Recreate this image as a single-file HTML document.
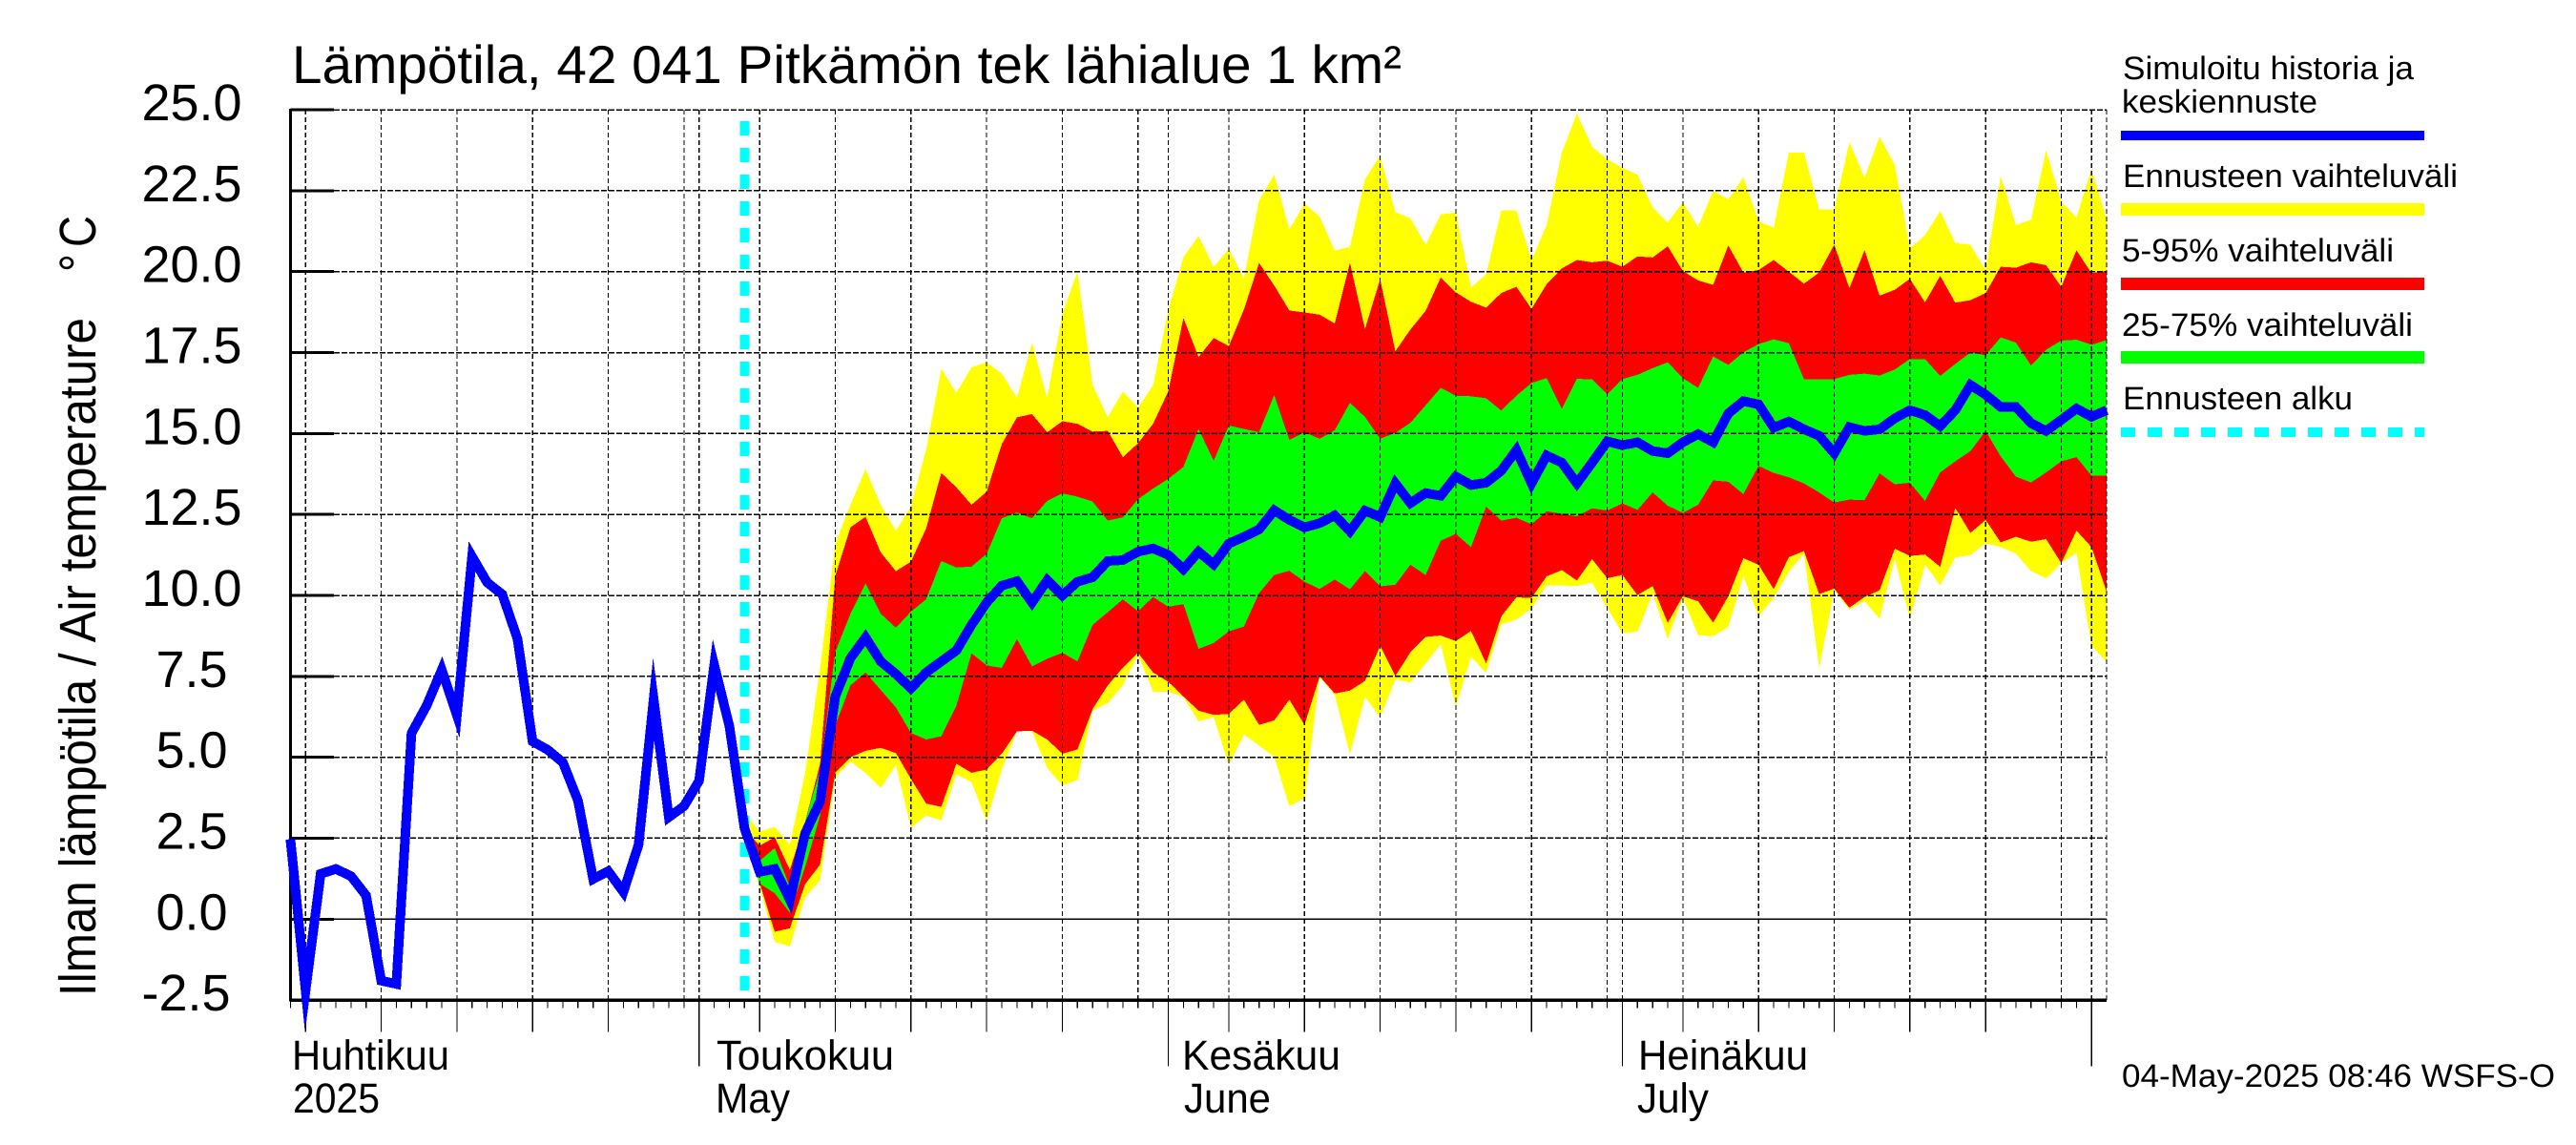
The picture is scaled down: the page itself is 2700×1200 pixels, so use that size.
<!DOCTYPE html>
<html lang="fi">
<head>
<meta charset="utf-8">
<title>Lämpötila, 42 041 Pitkämön tek lähialue 1 km²</title>
<style>
html,body{margin:0;padding:0;background:#fff;width:2700px;height:1200px;overflow:hidden}
svg{display:block}
text{font-family:"Liberation Sans",sans-serif;fill:#000;text-rendering:geometricPrecision}
</style>
</head>
<body>
<svg id="chart" xmlns="http://www.w3.org/2000/svg" width="2700" height="1200" viewBox="0 0 2700 1200">
  <rect x="0" y="0" width="2700" height="1200" fill="#fff"/>
  <text x="306" y="87" font-size="56" textLength="1163" lengthAdjust="spacingAndGlyphs">Lämpötila, 42 041 Pitkämön tek lähialue 1 km²</text>
  <g id="plot"></g>
  <text transform="translate(100,1044) rotate(-90)" font-size="54" textLength="711" lengthAdjust="spacingAndGlyphs">Ilman lämpötila / Air temperature</text>
  <text transform="translate(100,285) rotate(-90)" font-size="54" textLength="19" lengthAdjust="spacingAndGlyphs">°</text>
  <text transform="translate(100,259) rotate(-90)" font-size="54" textLength="33" lengthAdjust="spacingAndGlyphs">C</text>

  <text x="306" y="1121" font-size="44" textLength="165" lengthAdjust="spacingAndGlyphs">Huhtikuu</text>
  <text x="307" y="1166" font-size="44" textLength="91" lengthAdjust="spacingAndGlyphs">2025</text>
  <text x="751" y="1121" font-size="44" textLength="186" lengthAdjust="spacingAndGlyphs">Toukokuu</text>
  <text x="750" y="1166" font-size="44" textLength="78" lengthAdjust="spacingAndGlyphs">May</text>
  <text x="1239" y="1121" font-size="44" textLength="166" lengthAdjust="spacingAndGlyphs">Kesäkuu</text>
  <text x="1241" y="1166" font-size="44" textLength="91" lengthAdjust="spacingAndGlyphs">June</text>
  <text x="1717" y="1121" font-size="44" textLength="178" lengthAdjust="spacingAndGlyphs">Heinäkuu</text>
  <text x="1716" y="1166" font-size="44" textLength="75" lengthAdjust="spacingAndGlyphs">July</text>
  <text x="2224" y="1139" font-size="34" textLength="454" lengthAdjust="spacingAndGlyphs">04-May-2025 08:46 WSFS-O</text>

  <g>
    <text x="2225" y="83" font-size="34" textLength="305" lengthAdjust="spacingAndGlyphs">Simuloitu historia ja</text>
    <text x="2224" y="118" font-size="34" textLength="205" lengthAdjust="spacingAndGlyphs">keskiennuste</text>
    <rect x="2223" y="137" width="318" height="10" fill="#0000ff"/>
    <text x="2225" y="196" font-size="34" textLength="351" lengthAdjust="spacingAndGlyphs">Ennusteen vaihteluväli</text>
    <rect x="2223" y="213" width="318" height="13" fill="#ffff00"/>
    <text x="2224" y="274" font-size="34" textLength="285" lengthAdjust="spacingAndGlyphs">5-95% vaihteluväli</text>
    <rect x="2223" y="291" width="318" height="13" fill="#ff0000"/>
    <text x="2224" y="352" font-size="34" textLength="305" lengthAdjust="spacingAndGlyphs">25-75% vaihteluväli</text>
    <rect x="2223" y="368" width="318" height="13" fill="#00ff00"/>
    <text x="2225" y="429" font-size="34" textLength="241" lengthAdjust="spacingAndGlyphs">Ennusteen alku</text>
    <line x1="2223" y1="453" x2="2541" y2="453" stroke="#00ffff" stroke-width="10" stroke-dasharray="15 13" shape-rendering="crispEdges"/>
  </g>
</svg>
<script>
// Day index 0 = 1 April 2025. History covers day 3..32, forecast covers day 33..123.
const firstHistoryDay = 3;
const forecastStartDay = 33;
const lastDay = 123;
const monthStartDays = [0, 30, 61, 91, 122];
const yTickValues = [25, 22.5, 20, 17.5, 15, 12.5, 10, 7.5, 5, 2.5, 0, -2.5];

const historyValues = [
  2.47,-2.2,1.4,1.55,1.33,0.73,-1.9,-2.0,5.74,6.6,
  7.7,6.3,11.2,10.4,10.03,8.66,5.49,5.23,4.84,3.66,
  1.24,1.48,0.84,2.3,6.8,3.15,3.49,4.27,7.85,5.96
];
const forecastMean = [
  2.81,1.46,1.55,0.6,2.64,3.64,6.88,8.06,8.7,7.96,
  7.57,7.13,7.62,7.96,8.3,9.09,9.78,10.3,10.44,9.78,
  10.47,10.0,10.42,10.56,11.06,11.09,11.35,11.45,11.25,10.81,
  11.35,10.96,11.6,11.81,12.04,12.63,12.33,12.1,12.23,12.47,
  11.98,12.62,12.42,13.46,12.85,13.16,13.08,13.67,13.41,13.48,
  13.85,14.49,13.46,14.32,14.1,13.46,14.1,14.76,14.64,14.73,
  14.46,14.39,14.73,14.98,14.73,15.62,16.0,15.9,15.18,15.37,
  15.13,14.93,14.39,15.2,15.08,15.13,15.47,15.72,15.57,15.23,
  15.72,16.5,16.2,15.82,15.82,15.32,15.08,15.42,15.77,15.52,
  15.72
];
const forecastMax = [
  3.3,2.7,2.85,2.3,4.5,7.77,11.6,12.8,13.9,12.8,
  12.0,12.75,14.5,17.0,16.26,17.04,17.2,16.85,16.1,17.8,
  16.1,18.7,20.0,16.5,15.5,16.3,15.8,16.5,18.8,20.45,
  21.1,20.15,20.7,19.8,22.2,23.0,21.3,22.1,21.7,20.65,
  20.77,22.85,23.59,21.84,21.65,20.83,21.77,21.82,19.51,19.92,
  21.89,21.89,20.34,21.44,23.68,24.88,23.86,23.47,23.21,23.0,
  21.99,21.52,22.14,21.38,22.49,22.23,22.92,21.55,21.36,23.68,
  23.68,21.92,21.92,24.0,22.9,24.17,23.29,20.71,21.13,21.87,
  20.88,20.83,20.05,22.95,21.44,21.6,23.75,22.16,21.67,23.16,
  21.6
];
const forecastP95 = [
  2.8,2.27,2.53,1.52,3.0,4.8,10.6,12.1,12.43,11.33,
  10.75,11.04,12.07,13.78,13.34,12.8,13.2,14.67,15.5,15.6,
  15.04,15.38,15.3,15.06,15.08,14.27,14.7,15.3,16.3,18.57,
  17.36,17.95,17.7,18.83,20.27,19.57,18.8,18.74,18.67,18.4,
  20.27,18.23,19.77,17.54,18.21,18.79,19.82,19.36,19.07,18.89,
  19.34,19.53,18.85,19.61,20.1,20.36,20.29,20.34,20.15,20.47,
  20.44,20.78,20.02,19.73,19.59,20.81,19.97,20.05,20.36,20.0,
  19.63,19.97,20.83,19.49,20.66,19.26,19.44,19.78,19.05,19.87,
  19.04,19.12,19.34,20.15,20.12,20.29,20.2,19.53,20.66,19.95,
  20.03
];
const forecastP75 = [
  2.7,1.8,2.2,1.0,3.0,4.6,8.26,9.43,10.37,9.43,
  9.0,9.5,9.88,11.06,10.86,10.89,11.28,12.38,12.56,12.38,
  12.92,13.15,13.05,12.9,12.31,12.41,12.97,13.3,13.6,13.97,
  15.14,14.16,15.25,15.14,15.04,16.19,14.8,15.04,14.84,15.1,
  15.95,15.51,14.84,15.02,15.33,15.87,16.41,16.17,16.15,16.09,
  15.71,16.17,16.56,16.71,15.76,16.69,16.67,16.22,16.68,16.81,
  17.02,17.2,16.71,16.41,17.38,17.12,17.51,17.76,17.91,17.79,
  16.68,16.68,16.68,16.81,16.85,16.79,16.98,17.3,17.3,16.78,
  17.15,17.5,17.42,17.97,17.81,17.1,17.59,17.87,17.9,17.74,
  17.89
];
const forecastP25 = [
  2.6,1.1,0.8,0.2,1.6,3.2,5.99,7.22,7.62,7.08,
  6.54,5.75,5.55,5.65,6.59,8.21,7.84,7.76,8.65,7.81,
  8.04,8.23,7.96,9.09,9.48,9.88,9.51,9.95,9.65,9.73,
  8.35,8.53,8.89,9.04,10.07,10.63,10.76,10.42,10.2,10.49,
  10.19,10.75,10.28,10.33,10.95,10.63,11.69,11.9,11.49,12.74,
  12.31,12.4,12.2,12.6,12.52,12.44,12.69,12.62,12.84,12.64,
  13.18,12.77,12.55,12.8,13.55,13.51,13.13,14.0,13.78,13.65,
  13.46,13.18,12.87,12.96,12.94,13.77,13.43,13.48,12.92,13.8,
  14.14,14.46,15.08,14.29,13.67,13.49,13.8,14.14,14.27,13.7,
  13.7
];
const forecastP5 = [
  2.55,1.12,-0.39,-0.28,1.07,1.69,4.52,5.0,5.2,5.29,
  5.13,4.33,3.57,3.47,4.8,4.52,4.62,5.11,5.8,5.82,
  5.55,5.11,5.24,6.49,7.22,7.77,8.23,7.62,7.33,6.88,
  6.44,6.31,6.34,6.78,6.0,6.14,6.78,6.0,7.5,6.97,
  7.06,7.36,8.44,7.51,8.24,8.72,8.76,8.59,8.9,7.9,
  9.35,9.94,9.92,10.59,10.78,10.46,11.12,10.53,10.63,10.01,
  10.29,9.15,9.97,9.82,9.16,9.97,11.15,10.95,10.19,11.18,
  11.37,10.04,10.21,9.62,9.95,10.16,11.44,11.22,11.26,10.88,
  12.7,11.93,12.33,11.64,11.81,11.66,11.74,11.0,12.0,11.49,
  10.11
];
const forecastMin = [
  2.5,1.0,-0.7,-0.84,0.67,1.2,4.38,4.87,4.52,4.05,
  4.77,2.82,3.2,3.05,4.47,4.23,3.03,4.62,5.8,5.8,
  4.67,4.13,4.3,6.44,6.67,7.22,8.16,7.03,7.03,6.86,
  6.11,6.24,4.77,5.7,5.36,5.01,3.49,3.74,7.47,6.92,
  5.1,6.87,6.23,7.41,7.31,7.9,8.49,6.57,8.1,7.61,
  9.11,9.25,9.6,10.31,10.31,10.29,10.39,9.62,8.83,8.88,
  10.06,8.66,9.92,8.77,8.74,9.03,10.6,9.36,9.92,10.73,
  11.29,7.77,10.16,9.57,9.82,9.28,11.15,9.28,10.95,10.31,
  11.17,11.24,11.61,11.49,11.29,10.75,10.53,11.0,11.32,8.44,
  7.95
];

const SVG_NS = 'http://www.w3.org/2000/svg';
const plot = document.getElementById('plot');
const xScale = d => 304.4 + (d - firstHistoryDay) * 15.864;
const yScale = v => 963.3 - 33.93 * v;
const plotTop = yScale(25);
const plotBottom = yScale(-2.5);
const plotLeft = xScale(firstHistoryDay);
const plotRight = xScale(lastDay);

function make(tag, attrs) {
  const el = document.createElementNS(SVG_NS, tag);
  for (const k in attrs) el.setAttribute(k, attrs[k]);
  plot.appendChild(el);
  return el;
}

function bandPath(upper, lower) {
  const top = upper.map((v, i) => xScale(forecastStartDay + i).toFixed(1) + ',' + yScale(v).toFixed(1));
  const bottom = lower.map((v, i) => xScale(forecastStartDay + i).toFixed(1) + ',' + yScale(v).toFixed(1)).reverse();
  return 'M' + top.join('L') + 'L' + bottom.join('L') + 'Z';
}

const rangeBand = make('path', {d: bandPath(forecastMax, forecastMin), fill: '#ffff00', 'shape-rendering': 'crispEdges'});


const p595Band = make('path', {d: bandPath(forecastP95, forecastP5), fill: '#ff0000', 'shape-rendering': 'crispEdges'});


const p2575Band = make('path', {d: bandPath(forecastP75, forecastP25), fill: '#00ff00', 'shape-rendering': 'crispEdges'});



// Vertical grid lines and x ticks
const gridDays = new Set();
const longTickDays = new Set();
monthStartDays.forEach((start, m) => {
  if (m >= monthStartDays.length - 1) return;
  for (let k = 5; k <= 30; k += 5) {
    const d = start + k - 1;
    if (d >= monthStartDays[m + 1]) continue;
    gridDays.add(d);
    if (k < 30) longTickDays.add(d);
  }
});
monthStartDays.forEach(d => { if (d >= firstHistoryDay) gridDays.add(d); });
gridDays.add(lastDay);

gridDays.forEach(d => {
  const line = make('line', {x1: xScale(d), x2: xScale(d), y1: plotTop, y2: plotBottom, stroke: '#000', 'stroke-width': 1.2, 'stroke-dasharray': '5 3', 'shape-rendering': 'crispEdges'});
  
  
});

for (let d = firstHistoryDay; d < lastDay; d++) {
  let end = 1056.5;
  if (longTickDays.has(d)) end = 1081.5;
  if (monthStartDays.includes(d)) end = 1117.5;
  const tick = make('line', {x1: xScale(d), x2: xScale(d), y1: plotBottom, y2: end, stroke: '#000', 'stroke-width': 1.2, 'shape-rendering': 'crispEdges'});
  
  
}

// Horizontal grid lines, y ticks and labels
yTickValues.forEach(v => {
  const y = yScale(v);
  if (v > -2.5) {
    const attrs = {x1: 350, x2: plotRight, y1: y, y2: y, stroke: '#000', 'stroke-width': 1.5, 'shape-rendering': 'crispEdges'};
    if (v !== 0) attrs['stroke-dasharray'] = '6 2';
    const grid = make('line', attrs);
    
    
  }
  const tick = make('line', {x1: plotLeft, x2: 350, y1: y, y2: y, stroke: '#000', 'stroke-width': 3, 'shape-rendering': 'crispEdges'});
  
  
  const label = make('text', {x: v < 0 ? 195 : 201, y: y + 11, 'font-size': 54, 'text-anchor': 'middle'});
  
  
  label.textContent = v.toFixed(1);
});

// Forecast start marker
const startLine = make('line', {x1: xScale(forecastStartDay), x2: xScale(forecastStartDay), y1: 127, y2: plotBottom, stroke: '#00ffff', 'stroke-width': 10, 'stroke-dasharray': '15 13', 'shape-rendering': 'crispEdges'});



// Axes
const yAxis = make('line', {x1: plotLeft, x2: plotLeft, y1: plotTop - 1, y2: plotBottom + 1.5, stroke: '#000', 'stroke-width': 3, 'shape-rendering': 'crispEdges'});


const xAxis = make('line', {x1: plotLeft, x2: plotRight, y1: plotBottom, y2: plotBottom, stroke: '#000', 'stroke-width': 3.5, 'shape-rendering': 'crispEdges'});



// History + mean forecast line
const meanSeries = historyValues.concat(forecastMean);
const meanPoints = meanSeries.map((v, i) => xScale(firstHistoryDay + i).toFixed(1) + ',' + yScale(v).toFixed(1)).join(' ');
const meanLine = make('polyline', {points: meanPoints, fill: 'none', stroke: '#0000ff', 'stroke-width': 10, 'stroke-linejoin': 'miter', 'stroke-miterlimit': 14, 'shape-rendering': 'crispEdges'});


</script>
</body>
</html>
